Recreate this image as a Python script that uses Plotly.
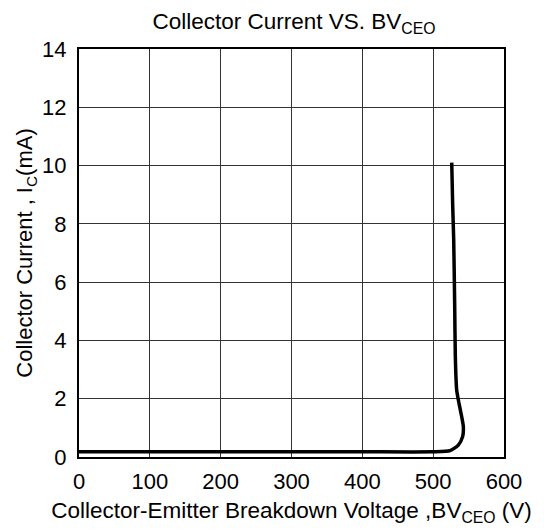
import plotly.graph_objects as go

# Collector-Emitter voltage (V) and collector current (mA)
voltage = [0, 100, 200, 300, 400, 500, 523.8, 535.5, 541.6, 542.6, 540.3, 536.5,
           533.2, 531.3, 530.4, 529.0, 527.6, 526.2]
current = [0.18, 0.18, 0.18, 0.18, 0.18, 0.18, 0.22, 0.41, 0.70, 1.04, 1.38, 1.84,
           2.30, 3.44, 5.16, 7.44, 8.59, 10.1]

x_ticks = [0, 100, 200, 300, 400, 500, 600]
y_ticks = [0, 2, 4, 6, 8, 10, 12, 14]

FONT = "Liberation Sans, Arial, sans-serif"

# page body has an 8px margin, so the figure is 8px smaller than the window
W, H = 536, 522

fig = go.Figure()
fig.add_trace(go.Scatter(
    x=voltage, y=current, mode="lines",
    line=dict(color="black", width=3.5, shape="spline", smoothing=0.6),
    showlegend=False, hoverinfo="skip",
))

fig.update_layout(
    width=W, height=H,
    margin=dict(l=71, r=40, t=41, b=73),
    paper_bgcolor="white", plot_bgcolor="white",
    font=dict(family=FONT, color="black"),
    title=dict(text="Collector Current VS. BV<sub>CEO</sub>",
               x=(294 - 8) / W, xanchor="center",
               y=1 - (21 - 8) / H, yanchor="middle",
               font=dict(family=FONT, size=22.5, color="black")),
)

fig.update_xaxes(
    range=[0, 600], tickvals=x_ticks, ticktext=[str(v) for v in x_ticks],
    showgrid=True, gridcolor="#333333", gridwidth=1,
    showline=True, linecolor="black", linewidth=2, mirror=True,
    zeroline=False, ticks="", ticklen=0, ticklabelstandoff=4,
    tickfont=dict(family=FONT, size=22, color="black"),
    title=dict(text="Collector-Emitter Breakdown Voltage ,BV<sub>CEO</sub> (V)",
               font=dict(family=FONT, size=22.5, color="black"), standoff=9),
)
fig.update_yaxes(
    range=[0, 14], tickvals=y_ticks, ticktext=[str(v) for v in y_ticks],
    showgrid=True, gridcolor="#333333", gridwidth=1,
    showline=True, linecolor="black", linewidth=2, mirror=True,
    zeroline=False, ticks="", ticklen=0, ticklabelstandoff=6,
    tickfont=dict(family=FONT, size=22, color="black"),
    title=dict(text="Collector Current , I<sub>C</sub>(mA)",
               font=dict(family=FONT, size=22, color="black"), standoff=3),
)

fig.write_html("out.html")
